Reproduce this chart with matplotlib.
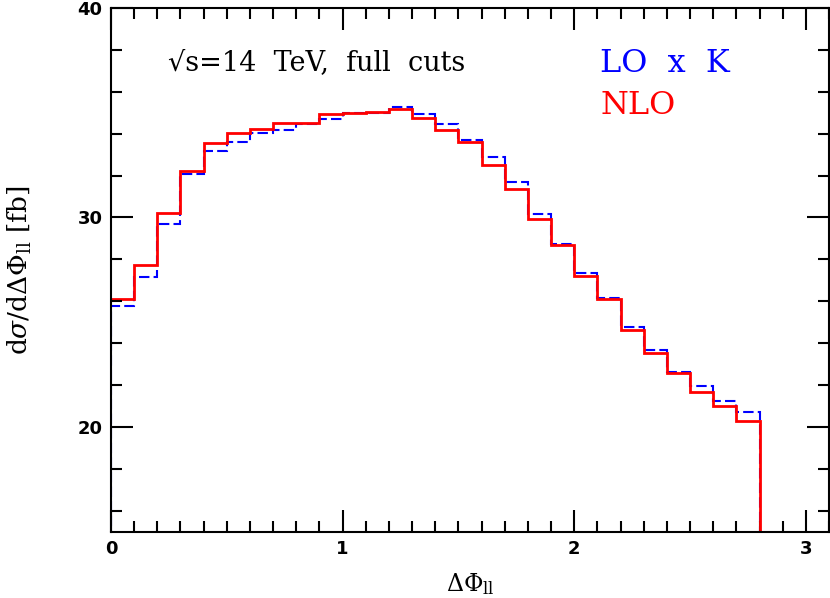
import numpy as np
import matplotlib.pyplot as plt
from matplotlib.ticker import MultipleLocator

# bin edges of Delta Phi_ll (0 .. 2.8 in steps of 0.1)
edges = [0.0, 0.1, 0.2, 0.3, 0.4, 0.5, 0.6, 0.7, 0.8, 0.9, 1.0, 1.1, 1.2, 1.3,
         1.4, 1.5, 1.6, 1.7, 1.8, 1.9, 2.0, 2.1, 2.2, 2.3, 2.4, 2.5, 2.6, 2.7, 2.8]

# NLO prediction (red, solid)
nlo = [26.13, 27.72, 30.19, 32.23, 33.53, 34.01, 34.22, 34.52, 34.52, 34.92,
       34.96, 35.05, 35.19, 34.73, 34.18, 33.60, 32.52, 31.34, 29.94, 28.67,
       27.20, 26.11, 24.65, 23.53, 22.56, 21.69, 20.99, 20.30]

# LO x K (blue, dashed)
lok = [25.77, 27.17, 29.71, 32.07, 33.17, 33.58, 34.01, 34.17, 34.44, 34.68,
       35.00, 34.97, 35.29, 34.94, 34.46, 33.70, 32.87, 31.69, 30.17, 28.73,
       27.33, 26.14, 24.79, 23.69, 22.63, 21.96, 21.24, 20.70]

plt.rcParams['mathtext.fontset'] = 'dejavuserif'

fig = plt.figure(figsize=(8.3, 5.98), dpi=100)
ax = fig.add_axes([0.1337, 0.1104, 0.8651, 0.8766])

# step histograms, dropping to zero after the last bin
ax.stairs(lok, edges, baseline=0, color='blue', linestyle=(0, (5, 2)), linewidth=1.5)
ax.stairs(nlo, edges, baseline=None, color='red', linewidth=2)
ax.plot([edges[-1], edges[-1]], [nlo[-1], 0], color='red', linewidth=2)

ax.set_xlim(0, 3.1)
ax.set_ylim(15, 40)

ax.xaxis.set_major_locator(MultipleLocator(1))
ax.xaxis.set_minor_locator(MultipleLocator(0.1))
ax.yaxis.set_major_locator(MultipleLocator(10))
ax.yaxis.set_minor_locator(MultipleLocator(2))
ax.tick_params(which='both', direction='in', top=True, right=True, width=1.5)
ax.tick_params(which='major', length=16, pad=6)
ax.tick_params(which='minor', length=8)
for s in ax.spines.values():
    s.set_linewidth(1.5)

for lab in ax.get_xticklabels() + ax.get_yticklabels():
    lab.set_fontweight('bold')
    lab.set_fontsize(13)

ax.set_xlabel(r'$\Delta\Phi_{\rm ll}$', fontsize=17)
ax.xaxis.set_label_coords(0.5, -0.074)
ax.set_ylabel(r'd$\sigma$/d$\Delta\Phi_{\rm ll}$ [fb]', fontsize=19, family='DejaVu Serif')
ax.yaxis.set_label_coords(-0.107, 0.5)

ax.text(0.245, 37.04, '√s=14  TeV,  full  cuts', fontsize=19.5, family='DejaVu Serif')
ax.text(2.112, 36.95, 'LO  x  K', fontsize=23, family='DejaVu Serif', color='blue')
ax.text(2.112, 34.95, 'NLO', fontsize=23, family='DejaVu Serif', color='red')

fig.savefig('out.png', dpi=100)
